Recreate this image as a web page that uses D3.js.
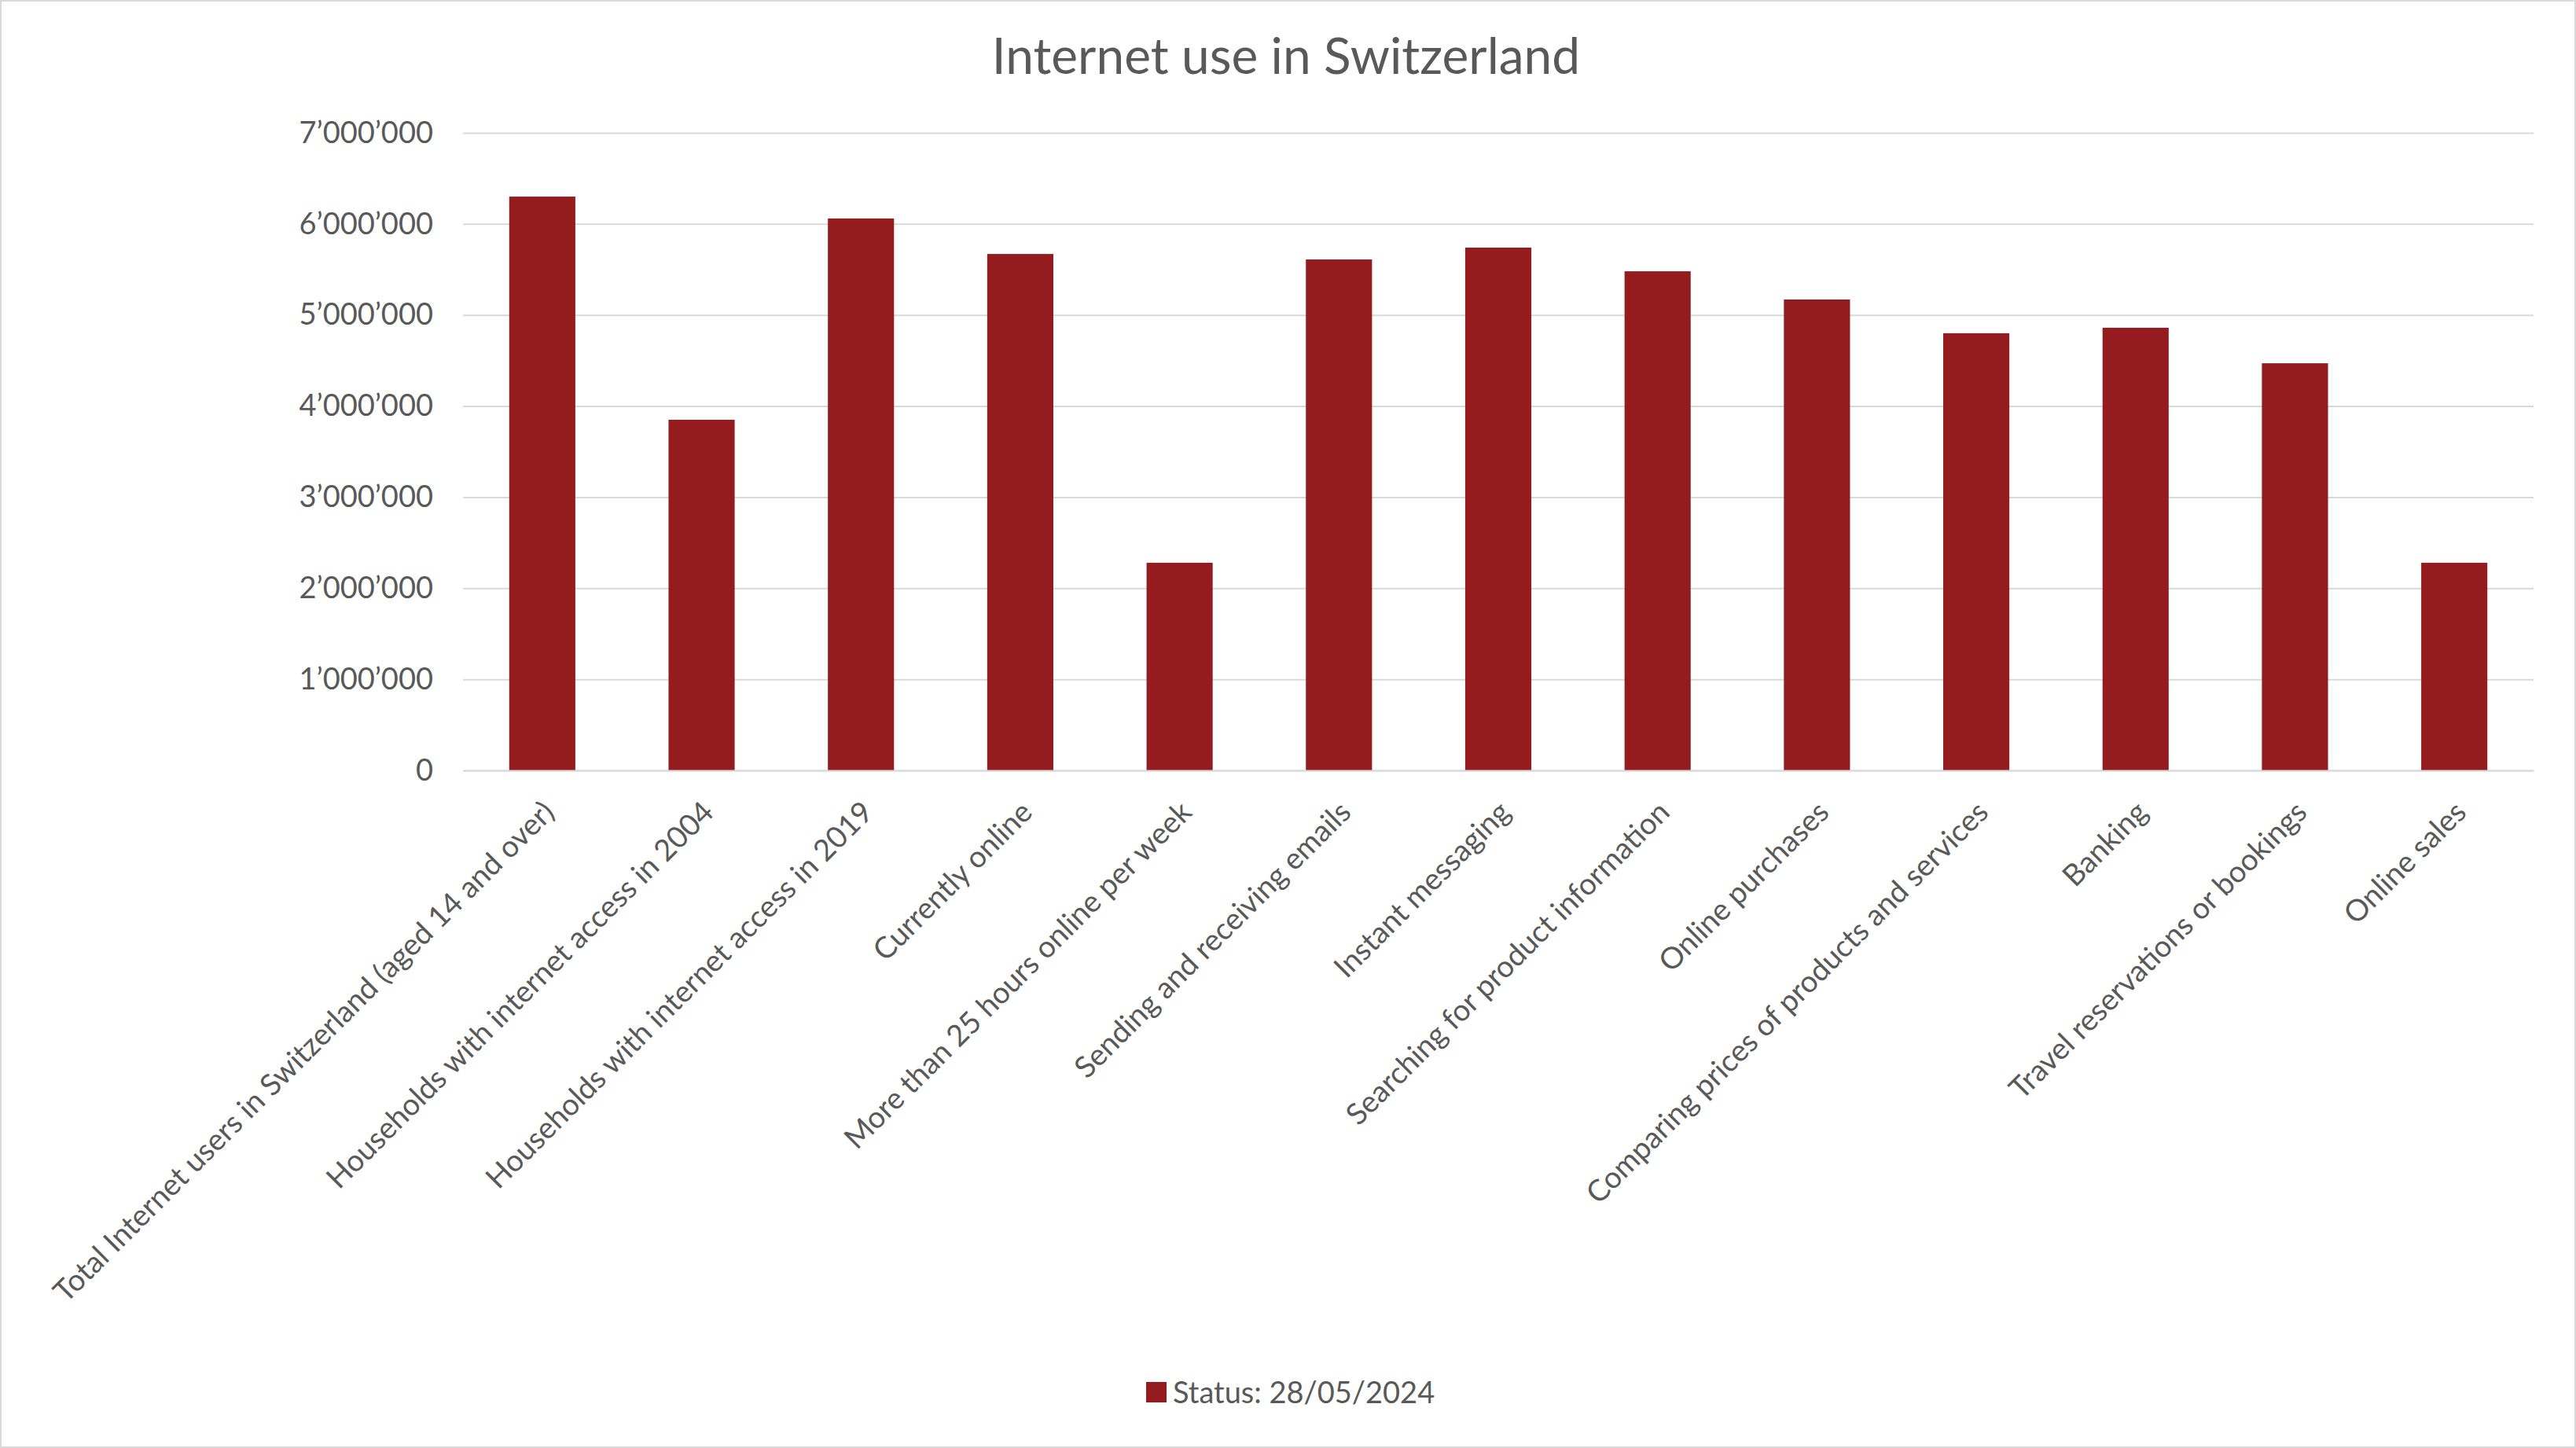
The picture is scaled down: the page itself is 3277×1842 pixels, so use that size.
<!DOCTYPE html>
<html><head><meta charset="utf-8">
<script src="https://cdn.jsdelivr.net/npm/d3@7"></script>
<style>body{margin:0;background:#fff}</style>
</head><body>
<script>
const categories = ["Total Internet users in Switzerland (aged 14 and over)","Households with internet access in 2004","Households with internet access in 2019","Currently online","More than 25 hours online per week","Sending and receiving emails","Instant messaging","Searching for product information","Online purchases","Comparing prices of products and services","Banking","Travel reservations or bookings","Online sales"];
const values = [6300000,3850000,6060000,5670000,2280000,5610000,5740000,5480000,5170000,4800000,4860000,4470000,2280000];
const yTicks = [0,1000000,2000000,3000000,4000000,5000000,6000000,7000000];
const seriesName = "Status: 28/05/2024";

const W = 3277, H = 1842, font = "Lato, 'Open Sans', sans-serif";
const m = {l: 589, r: 3223, t: 169, b: 980};
const svg = d3.select("body").append("svg").attr("width", W).attr("height", H).style("font-family", font);
svg.append("rect").attr("x",1).attr("y",1).attr("width",W-2).attr("height",H-2).attr("fill","#fff").attr("stroke","#d9d9d9").attr("stroke-width",2);

const x = d3.scaleBand().domain(categories).range([m.l, m.r]).paddingInner(0.585).paddingOuter(0.29);
const y = d3.scaleLinear().domain([0, 7000000]).range([m.b, m.t]);
const fmt = v => d3.format(",")(v).replace(/,/g, "\u2019");

svg.append("text").attr("x", (m.l + m.r)/2 - 270).attr("y", 94).attr("text-anchor","middle")
  .attr("font-size", 64).attr("fill","#595959").text("Internet use in Switzerland");

const yAxis = svg.append("g").attr("transform", `translate(${m.l},0)`)
  .call(d3.axisLeft(y).tickValues(yTicks).tickFormat(fmt).tickSize(-(m.r - m.l)).tickPadding(38));
yAxis.select(".domain").remove();
yAxis.selectAll("line").attr("stroke","#d9d9d9").attr("stroke-width",2);
yAxis.selectAll("text").attr("font-size",38).attr("fill","#595959").attr("font-family",font);

svg.append("g").selectAll("rect").data(values).join("rect")
  .attr("x",(d,i)=>x(categories[i])).attr("width",x.bandwidth())
  .attr("y",d=>y(d)).attr("height",d=>y(0)-y(d)).attr("fill","#941B1E");

const xAxis = svg.append("g").attr("transform", `translate(0,${m.b})`).call(d3.axisBottom(x).tickSize(0));
xAxis.select(".domain").attr("stroke","#d9d9d9").attr("stroke-width",2);
xAxis.selectAll("text").attr("font-size",38).attr("fill","#595959").attr("font-family",font)
  .attr("text-anchor","end").attr("dy","0.35em")
  .attr("transform","translate(6,44) rotate(-45)");

const lg = svg.append("g").attr("transform","translate(1458,1772)");
lg.append("rect").attr("x",0).attr("y",-14).attr("width",26).attr("height",26).attr("fill","#941B1E");
lg.append("text").attr("x",34).attr("y",0).attr("dy","0.35em").attr("font-size",38).attr("fill","#595959").text(seriesName);
</script>
</body></html>
